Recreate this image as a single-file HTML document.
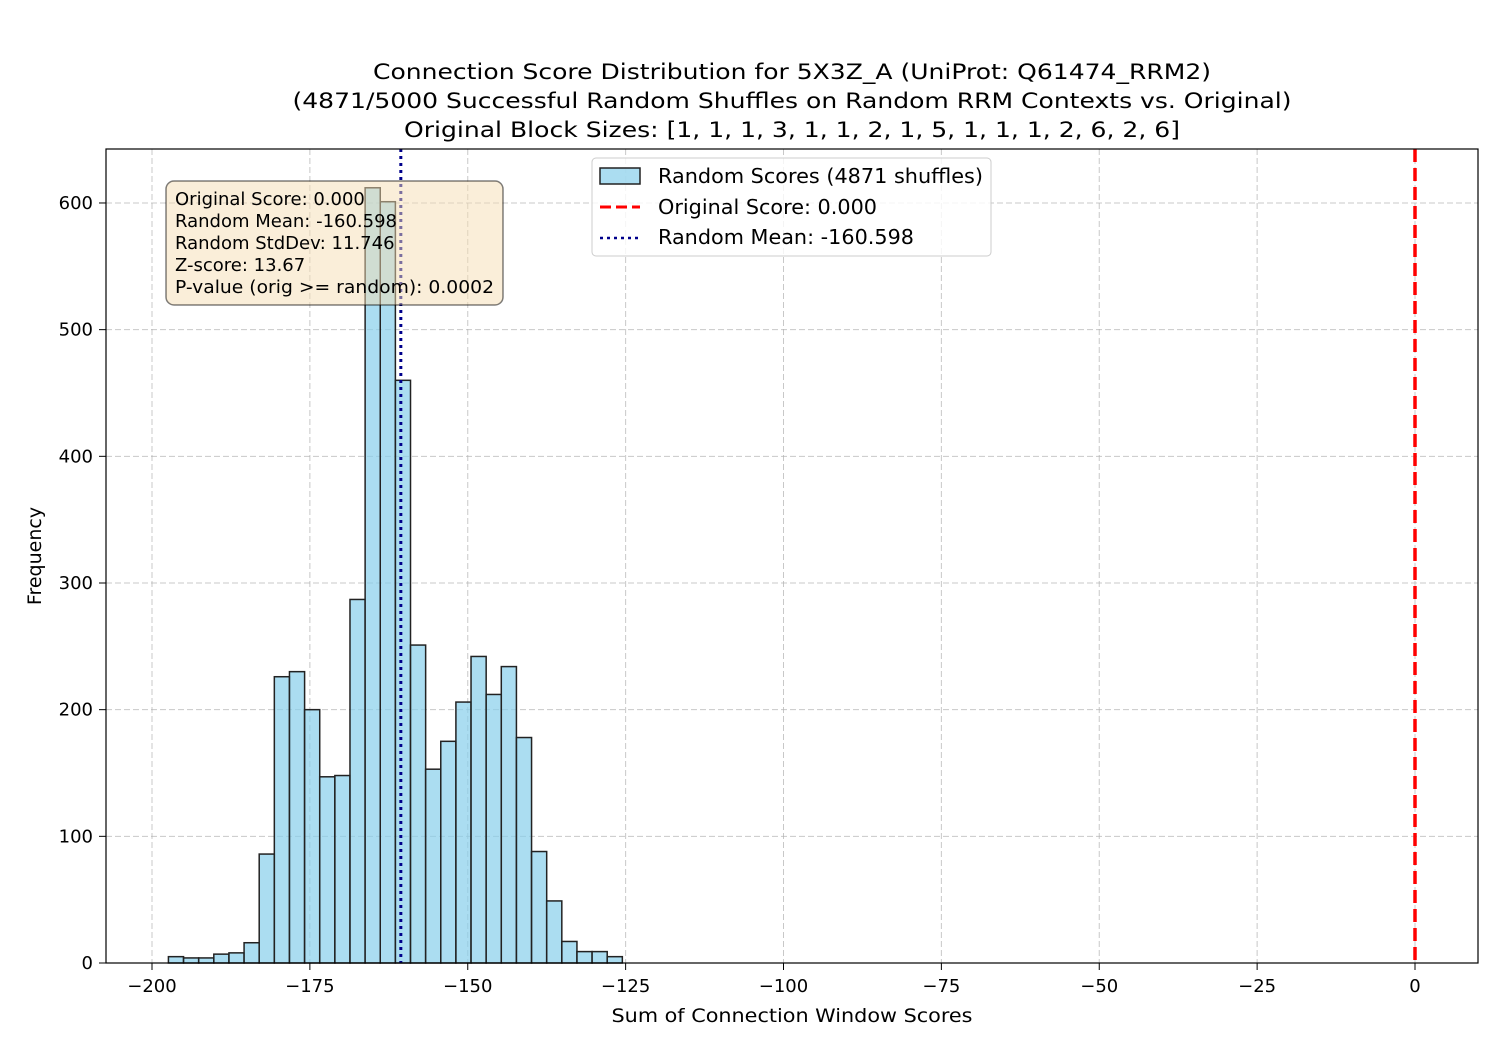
<!DOCTYPE html>
<html><head><meta charset="utf-8"><style>
body{margin:0;background:#fff;}
svg text{font-family:"DejaVu Sans","Liberation Sans",sans-serif;}
</style></head><body>
<svg id="chart" width="1500" height="1050">
<rect width="1500" height="1050" fill="#fff"/>
<g id="grid"></g>
<g id="bars"></g>
<g id="lines"></g>
<rect x="106" y="149" width="1372" height="814" fill="none" stroke="#000" stroke-width="1.2"/>
<g id="ticks"></g>
<text x="792" y="79" text-anchor="middle" font-size="21" textLength="838" lengthAdjust="spacingAndGlyphs">Connection Score Distribution for 5X3Z_A (UniProt: Q61474_RRM2)</text>
<text x="792" y="108" text-anchor="middle" font-size="21" textLength="999" lengthAdjust="spacingAndGlyphs">(4871/5000 Successful Random Shuffles on Random RRM Contexts vs. Original)</text>
<text x="792" y="137" text-anchor="middle" font-size="21" textLength="776" lengthAdjust="spacingAndGlyphs">Original Block Sizes: [1, 1, 1, 3, 1, 1, 2, 1, 5, 1, 1, 1, 2, 6, 2, 6]</text>
<text x="792" y="1022" text-anchor="middle" font-size="19" textLength="361" lengthAdjust="spacingAndGlyphs">Sum of Connection Window Scores</text>
<text x="41" y="556" text-anchor="middle" font-size="19" transform="rotate(-90 41 556)">Frequency</text>
<g>
<rect x="166" y="181" width="337" height="124" rx="8" fill="#f5deb3" fill-opacity="0.5" stroke="#000" stroke-opacity="0.5" stroke-width="1.5"/>
<text x="175" y="205" font-size="18">Original Score: 0.000</text>
<text x="175" y="227" font-size="18">Random Mean: -160.598</text>
<text x="175" y="249" font-size="18">Random StdDev: 11.746</text>
<text x="175" y="271" font-size="18">Z-score: 13.67</text>
<text x="175" y="293" font-size="18" textLength="319" lengthAdjust="spacingAndGlyphs">P-value (orig &gt;= random): 0.0002</text>
</g>
<g>
<rect x="592" y="158" width="399" height="98" rx="4" fill="#fff" fill-opacity="0.8" stroke="#ccc"/>
<rect x="600" y="168" width="40" height="16" fill="#87ceeb" fill-opacity="0.7" stroke="#222" stroke-width="1.5"/>
<text x="658" y="183" font-size="20" textLength="325" lengthAdjust="spacingAndGlyphs">Random Scores (4871 shuffles)</text>
<line x1="600" y1="207" x2="640" y2="207" stroke="#f00" stroke-width="3" stroke-dasharray="11,5"/>
<text x="658" y="214" font-size="20" textLength="219" lengthAdjust="spacingAndGlyphs">Original Score: 0.000</text>
<line x1="600" y1="238" x2="640" y2="238" stroke="#00008b" stroke-width="2.5" stroke-dasharray="3,4"/>
<text x="658" y="244" font-size="20" textLength="256" lengthAdjust="spacingAndGlyphs">Random Mean: -160.598</text>
</g>
</svg>
<script>
const binStart = -197.4;
const binWidth = 2.396;
const counts = [5,4,4,7,8,16,86,226,230,200,147,148,287,612,601,460,251,153,175,206,242,212,234,178,88,49,17,9,9,5];
const xTicks = [-200,-175,-150,-125,-100,-75,-50,-25,0];
const yTicks = [0,100,200,300,400,500,600];
const originalScore = 0.0;
const randomMean = -160.598;
const NS="http://www.w3.org/2000/svg";
const X = v => 152 + (v + 200) * 6.315;
const Y = v => 963 - v * 1.2667;
function mk(tag, attrs, parent){const e=document.createElementNS(NS,tag);for(const k in attrs)e.setAttribute(k,attrs[k]);parent.appendChild(e);return e;}
const grid=document.getElementById('grid'), bars=document.getElementById('bars'), ticks=document.getElementById('ticks'), lines=document.getElementById('lines');
xTicks.forEach(t=>{
  const g=mk('line',{x1:X(t),x2:X(t),y1:149,y2:963,stroke:'#b0b0b0','stroke-opacity':0.7,'stroke-dasharray':'6,3'},grid);
  
  
  mk('line',{x1:X(t),x2:X(t),y1:963,y2:970,stroke:'#000'},ticks);
  const tx=mk('text',{x:X(t),y:992,'text-anchor':'middle','font-size':18},ticks);
  tx.textContent=(t<0?'\u2212'+(-t):t);
  
  
});
yTicks.forEach(t=>{
  const g=mk('line',{x1:106,x2:1478,y1:Y(t),y2:Y(t),stroke:'#b0b0b0','stroke-opacity':0.7,'stroke-dasharray':'6,3'},grid);
  
  
  mk('line',{x1:99,x2:106,y1:Y(t),y2:Y(t),stroke:'#000'},ticks);
  const tx=mk('text',{x:93,y:Y(t)+6,'text-anchor':'end','font-size':18},ticks);
  tx.textContent=t;
  
  
});
counts.forEach((c,i)=>{
  const x0=X(binStart+i*binWidth), x1=X(binStart+(i+1)*binWidth);
  const r=mk('rect',{x:x0,y:Y(c),width:x1-x0,height:Y(0)-Y(c),fill:'#87ceeb','fill-opacity':0.7,stroke:'#222','stroke-width':1.5},bars);
  
  
});
const l1=mk('line',{x1:X(originalScore),x2:X(originalScore),y1:149,y2:963,stroke:'#f00','stroke-width':3.5,'stroke-dasharray':'13,6'},lines);


const l2=mk('line',{x1:X(randomMean),x2:X(randomMean),y1:149,y2:963,stroke:'#00008b','stroke-width':3,'stroke-dasharray':'3,4'},lines);


</script>
</body></html>
